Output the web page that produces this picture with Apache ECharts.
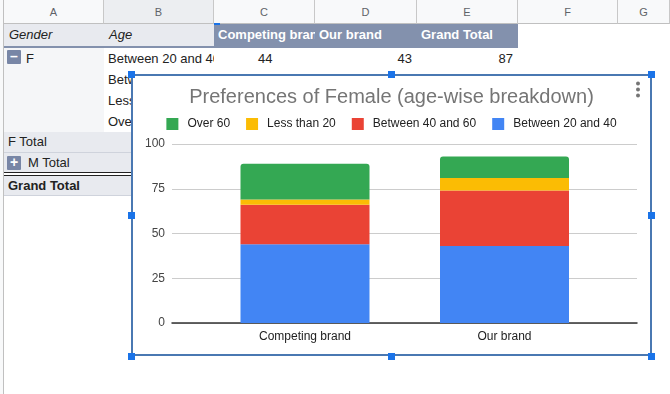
<!DOCTYPE html>
<html>
<head>
<meta charset="utf-8">
<script src="https://cdn.jsdelivr.net/npm/echarts@6/dist/echarts.min.js"></script>
<style>
  html, body { margin:0; padding:0; width:670px; height:394px; background:#fff; overflow:hidden;
    font-family: "Liberation Sans", Arial, sans-serif; font-size:13px; color:#222; }
  .abs { position:absolute; box-sizing:border-box; white-space:nowrap; overflow:hidden; }
  .colh { top:0; height:24px; background:#f8f9fa; border-right:1px solid #c8c8c8; border-bottom:1px solid #c0c0c0;
    color:#5f6368; font-size:11px; text-align:center; line-height:24px; }
  .hdrL { background:#e8eaef; font-style:italic; line-height:22px; padding-left:5px; }
  .hdrR { background:#8391ad; color:#fff; font-weight:bold; line-height:22px; padding-left:4px; }
  .cell { line-height:21px; padding-left:4px; }
  .tot { background:#e8eaef; border-bottom:1px solid #cfd3dc; line-height:20px; padding-left:4px; }
  .box { position:absolute; width:14px; height:14px; background:#7886a6; color:#fff; font-weight:bold;
    font-size:14px; line-height:13px; text-align:center; border-radius:1px; }
  .h { position:absolute; width:7px; height:7px; background:#1a73e8; }
</style>
</head>
<body>
<!-- spreadsheet background -->
<div class="abs" style="left:0;top:0;width:4px;height:394px;background:#f8f9fa;border-right:1px solid #c0c0c0;"></div>
<div class="abs colh" style="left:4px;width:100px;">A</div>
<div class="abs colh" style="left:104px;width:110px;background:#eceef1;">B</div>
<div class="abs colh" style="left:214px;width:101px;">C</div>
<div class="abs colh" style="left:315px;width:102px;">D</div>
<div class="abs colh" style="left:417px;width:101px;">E</div>
<div class="abs colh" style="left:518px;width:100px;">F</div>
<div class="abs colh" style="left:618px;width:52px;">G</div>

<div class="abs hdrL" style="left:4px;top:24px;width:100px;height:23px;">Gender</div>
<div class="abs hdrL" style="left:104px;top:24px;width:110px;height:23px;">Age</div>
<div class="abs hdrR" style="left:214px;top:24px;width:101px;height:23px;">Competing brand</div>
<div class="abs hdrR" style="left:315px;top:24px;width:102px;height:23px;">Our brand</div>
<div class="abs hdrR" style="left:417px;top:24px;width:101px;height:23px;">Grand Total</div>
<div class="abs" style="left:4px;top:46px;width:514px;height:2px;background:#8391ad;"></div>
<div class="abs" style="left:214px;top:23px;width:6px;height:2px;background:#1a73e8;"></div>

<div class="abs" style="left:4px;top:48px;width:100px;height:84px;background:#f5f6f8;"></div>
<div class="box" style="left:7px;top:50px;">&#8211;</div>
<div class="abs cell" style="left:22px;top:48px;width:80px;height:21px;">F</div>
<div class="abs cell" style="left:104px;top:48px;width:110px;height:21px;">Between 20 and 40</div>
<div class="abs cell" style="left:214px;top:48px;width:101px;height:21px;padding-left:44px;">44</div>
<div class="abs cell" style="left:315px;top:48px;width:102px;height:21px;text-align:right;padding-right:5px;">43</div>
<div class="abs cell" style="left:417px;top:48px;width:101px;height:21px;text-align:right;padding-right:5px;">87</div>
<div class="abs cell" style="left:104px;top:69px;width:110px;height:21px;">Between 40 and 60</div>
<div class="abs cell" style="left:104px;top:90px;width:110px;height:21px;">Less than 20</div>
<div class="abs cell" style="left:104px;top:111px;width:110px;height:21px;">Over 60</div>

<div class="abs tot" style="left:4px;top:132px;width:210px;height:21px;">F Total</div>
<div class="abs tot" style="left:4px;top:153px;width:210px;height:20px;padding-left:24px;border-bottom:none;">M Total</div>
<div class="box" style="left:7px;top:156px;">+</div>
<div class="abs" style="left:4px;top:172px;width:210px;height:1px;background:#222;"></div>
<div class="abs" style="left:4px;top:175px;width:210px;height:1px;background:#222;"></div>
<div class="abs tot" style="left:4px;top:176px;width:210px;height:20px;font-weight:bold;">Grand Total</div>

<!-- chart frame -->
<div class="abs" style="left:131px;top:74px;width:521px;height:282px;background:#fff;border:2px solid #4a78b2;"></div>
<div id="chart" style="position:absolute;left:133px;top:76px;width:517px;height:278px;"></div>
<div class="h" style="left:128px;top:71px;"></div>
<div class="h" style="left:388px;top:71px;"></div>
<div class="h" style="left:648px;top:71px;"></div>
<div class="h" style="left:128px;top:212px;"></div>
<div class="h" style="left:648px;top:212px;"></div>
<div class="h" style="left:128px;top:353px;"></div>
<div class="h" style="left:388px;top:353px;"></div>
<div class="h" style="left:648px;top:353px;"></div>

<script>
// ---- data ----
var categories = ["Competing brand", "Our brand"];
var between20and40 = [44, 43];
var between40and60 = [22, 31];
var lessThan20 = [3, 7];
var over60 = [20, 12];
var yTicks = [0, 25, 50, 75, 100];
var legendOrder = ["Over 60", "Less than 20", "Between 40 and 60", "Between 20 and 40"];

var FONT = '"Liberation Sans", Arial, sans-serif';
var chart = echarts.init(document.getElementById('chart'), null, {renderer: 'canvas'});

function barSeries(name, data, color, top) {
  return {
    name: name, type: 'bar', stack: 'total', xAxisIndex: 1, yAxisIndex: 1,
    data: data, barWidth: 129,
    itemStyle: { color: color, borderRadius: top ? [3, 3, 0, 0] : 0 },
    emphasis: { disabled: true }
  };
}

chart.setOption({
  animation: false,
  textStyle: { fontFamily: FONT },
  title: {
    text: 'Preferences of Female (age-wise breakdown)',
    left: 'center', top: 11, padding: 0,
    textStyle: { fontFamily: FONT, fontSize: 20, fontWeight: 'normal', color: '#757575' }
  },
  legend: {
    data: legendOrder, left: 'center', top: 42, padding: 0,
    icon: 'rect', itemWidth: 12, itemHeight: 12, itemGap: 16,
    textStyle: { fontFamily: FONT, fontSize: 12, color: '#222', padding: [0, 0, 0, 4] }
  },
  grid: [
    { left: 39, right: 13, top: 68, bottom: 31 },
    { left: 72.25, right: 45.75, top: 68, bottom: 31 }
  ],
  xAxis: [
    { type: 'category', gridIndex: 0, data: categories,
      axisLine: { show: true, lineStyle: { color: '#333', width: 1.5 } },
      axisTick: { show: false }, axisLabel: { show: false }, splitLine: { show: false } },
    { type: 'category', gridIndex: 1, data: categories,
      axisLine: { show: false }, axisTick: { show: false },
      axisLabel: { fontFamily: FONT, fontSize: 12, color: '#222', margin: 8 } }
  ],
  yAxis: [
    { type: 'value', gridIndex: 0, min: yTicks[0], max: yTicks[yTicks.length - 1], interval: 25,
      axisLine: { show: false }, axisTick: { show: false },
      axisLabel: { fontFamily: FONT, fontSize: 12, color: '#444', margin: 7 },
      splitLine: { lineStyle: { color: '#cccccc', width: 1 } } },
    { type: 'value', gridIndex: 1, min: yTicks[0], max: yTicks[yTicks.length - 1], interval: 25,
      show: false }
  ],
  graphic: [
    { type: 'circle', shape: { cx: 505, cy: 7.5, r: 2 }, style: { fill: '#757575' } },
    { type: 'circle', shape: { cx: 505, cy: 13.5, r: 2 }, style: { fill: '#757575' } },
    { type: 'circle', shape: { cx: 505, cy: 19.5, r: 2 }, style: { fill: '#757575' } }
  ],
  series: [
    barSeries('Between 20 and 40', between20and40, '#4285f4', false),
    barSeries('Between 40 and 60', between40and60, '#ea4335', false),
    barSeries('Less than 20', lessThan20, '#fbbc04', false),
    barSeries('Over 60', over60, '#34a853', true)
  ]
});
</script>
</body>
</html>
